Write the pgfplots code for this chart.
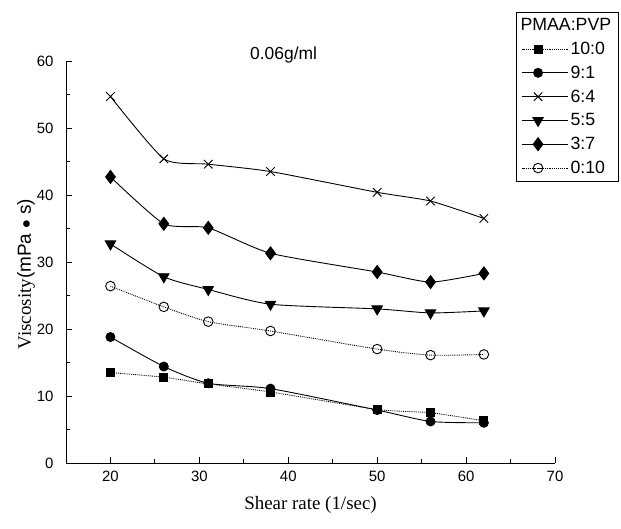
\documentclass[border=0pt]{standalone}
\usepackage{fontspec}
\setmainfont{Liberation Serif}
\setsansfont{Liberation Sans}
\usepackage{pgfplots}
\pgfplotsset{compat=1.18}
\begin{document}
\begin{tikzpicture}
\begin{axis}[
  name=ax,
  scale only axis,
  width=489bp, height=402bp,
  xmin=15, xmax=70, ymin=0, ymax=60,
  axis lines=left,
  axis line style={-, line width=1pt},
  xtick={20,30,...,70}, ytick={0,10,...,60},
  minor x tick num=1, minor y tick num=1,
  tick align=inside,
  major tick length=6bp, minor tick length=4bp,
  tick style={line width=0.9pt, black},
  ticklabel style={font=\sffamily\fontsize{15}{17}\selectfont},
  /pgf/number format/assume math mode=true,
  xticklabel style={yshift=-5bp},
  yticklabel style={xshift=-9bp},
  every axis x label/.style={at={(axis description cs:0.5,0)}, yshift=-42bp, anchor=center},
  every axis y label/.style={at={(axis description cs:0,0.47)}, xshift=-40bp, rotate=90, anchor=center},
  xlabel={\fontsize{19}{22}\selectfont Shear rate (1/sec)},
  ylabel={\fontsize{19}{22}\selectfont Viscosity{\sffamily(mPa $\bullet$ s)}},
  title={\sffamily\fontsize{17.5}{20}\selectfont 0.06g/ml},
  title style={at={(axis description cs:0.445,1.0)}, anchor=center, yshift=0bp},
  legend style={at={(axis description cs:1.13,1.122)}, anchor=north east,
    font=\sffamily\fontsize{17.8}{21}\selectfont, draw=black, line width=0.8pt,
    row sep=6bp, inner xsep=5bp, inner ysep=4bp, cells={anchor=west},
    nodes={inner xsep=2bp}},
  legend image code/.code={\draw[mark repeat=2,mark phase=2,#1] plot coordinates {(0bp,0bp) (16bp,0bp) (32bp,0bp)};
    \path (0bp,0bp) -- (46bp,0bp);},
  every axis plot/.append style={black, line width=0.9pt},
]
\addlegendimage{legend image code/.code={}}
\addlegendentry{\hspace*{-50bp}PMAA:PVP}
\addplot[densely dotted, mark=square*, mark size=4bp, mark options={solid}, smooth, tension=0.4] coordinates {
(20,13.5) (26,12.8) (31,11.8) (38,10.6) (50,8.0) (56,7.5) (62,6.3)};
\addlegendentry{10:0}
\addplot[solid, mark=*, mark size=4.5bp, smooth, tension=0.4] coordinates {
(20,18.8) (26,14.4) (31,11.9) (38,11.1) (50,7.9) (56,6.2) (62,6.0)};
\addlegendentry{9:1}
\addplot[solid, mark=x, mark size=6bp, smooth, tension=0.35] coordinates {
(20,54.7) (26,45.4) (31,44.6) (38,43.5) (50,40.4) (56,39.1) (62,36.5)};
\addlegendentry{6:4}
\addplot[solid, mark=triangle*, mark size=6bp, mark options={rotate=180}, smooth, tension=0.4] coordinates {
(20,32.7) (26,27.8) (31,25.9) (38,23.7) (50,23.0) (56,22.4) (62,22.7)};
\addlegendentry{5:5}
\addplot[solid, mark=diamond*, mark size=6.5bp, smooth, tension=0.35] coordinates {
(20,42.7) (26,35.7) (31,35.1) (38,31.3) (50,28.5) (56,27.0) (62,28.3)};
\addlegendentry{3:7}
\addplot[densely dotted, mark=o, mark size=4.8bp, mark options={solid, fill=white}, smooth, tension=0.4] coordinates {
(20,26.4) (26,23.3) (31,21.1) (38,19.7) (50,17.0) (56,16.1) (62,16.2)};
\addlegendentry{0:10}
\end{axis}
\pgfresetboundingbox
\useasboundingbox ([shift={(-66bp,-66bp)}]ax.south west) rectangle ([shift={(66bp,61bp)}]ax.north east);
\end{tikzpicture}
\end{document}
